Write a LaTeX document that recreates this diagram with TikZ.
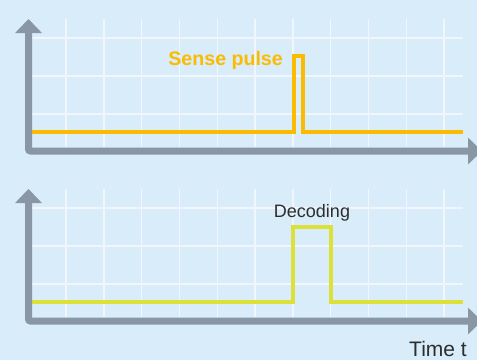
\documentclass[tikz,border=0pt]{standalone}
\usepackage{fontspec}
\setmainfont{Liberation Sans}
\usetikzlibrary{arrows.meta}
\definecolor{bgblue}{RGB}{216,236,250}
\definecolor{axisgray}{RGB}{137,150,163}
\definecolor{gridwhite}{RGB}{240,246,252}
\definecolor{senseorange}{RGB}{250,188,0}
\definecolor{decodeyellow}{RGB}{222,224,58}
\definecolor{textgray}{RGB}{45,45,45}
\tikzset{
	axisline/.style={axisgray,line width=7pt,rounded corners=2pt,{Triangle[width=26pt,length=14pt]}-{Triangle[width=26pt,length=14pt]}},
	gridline/.style={gridwhite,line width=1.4pt},
	senseline/.style={senseorange,line width=3.6pt},
	decodeline/.style={decodeyellow,line width=3.6pt},
	labeltext/.style={inner sep=0pt,text=textgray}
}
\begin{document}
\begin{tikzpicture}[x=1pt,y=-1pt]
	\fill[bgblue] (0,0) rectangle (477,360);
	\useasboundingbox (0,0) rectangle (477,360);
	
	% top panel: sense
	\foreach \gx in {0,...,10}
		\draw[gridline] (66+37.8*\gx,19) -- (66+37.8*\gx,147);
	\foreach \gy in {38,76,114}
		\draw[gridline] (32,\gy) -- (463,\gy);
	\draw[senseline] (32,132) -- (294,132) -- (294,56) -- (303,56) -- (303,132) -- (463,132);
	\draw[axisline] (28.5,19) -- (28.5,151) -- (482,151);
	\node[labeltext,anchor=base east,text=senseorange,font=\fontsize{19.6}{22}\selectfont\bfseries] (sense) at (283,65) {Sense pulse};
	
	% bottom panel: decoding
	\foreach \gx in {0,...,10}
		\draw[gridline] (66+37.8*\gx,189) -- (66+37.8*\gx,317);
	\foreach \gy in {208,246,284}
		\draw[gridline] (32,\gy) -- (463,\gy);
	\draw[decodeline] (32,302) -- (293,302) -- (293,227) -- (331,227) -- (331,302) -- (463,302);
	\draw[axisline] (28.5,189) -- (28.5,321) -- (482,321);
	\node[labeltext,anchor=base,font=\fontsize{18}{21}\selectfont] (decoding) at (312,217) {Decoding};
	\node[labeltext,anchor=base,font=\fontsize{21}{24}\selectfont] (time) at (438,356) {Time t};
\end{tikzpicture}
\end{document}
